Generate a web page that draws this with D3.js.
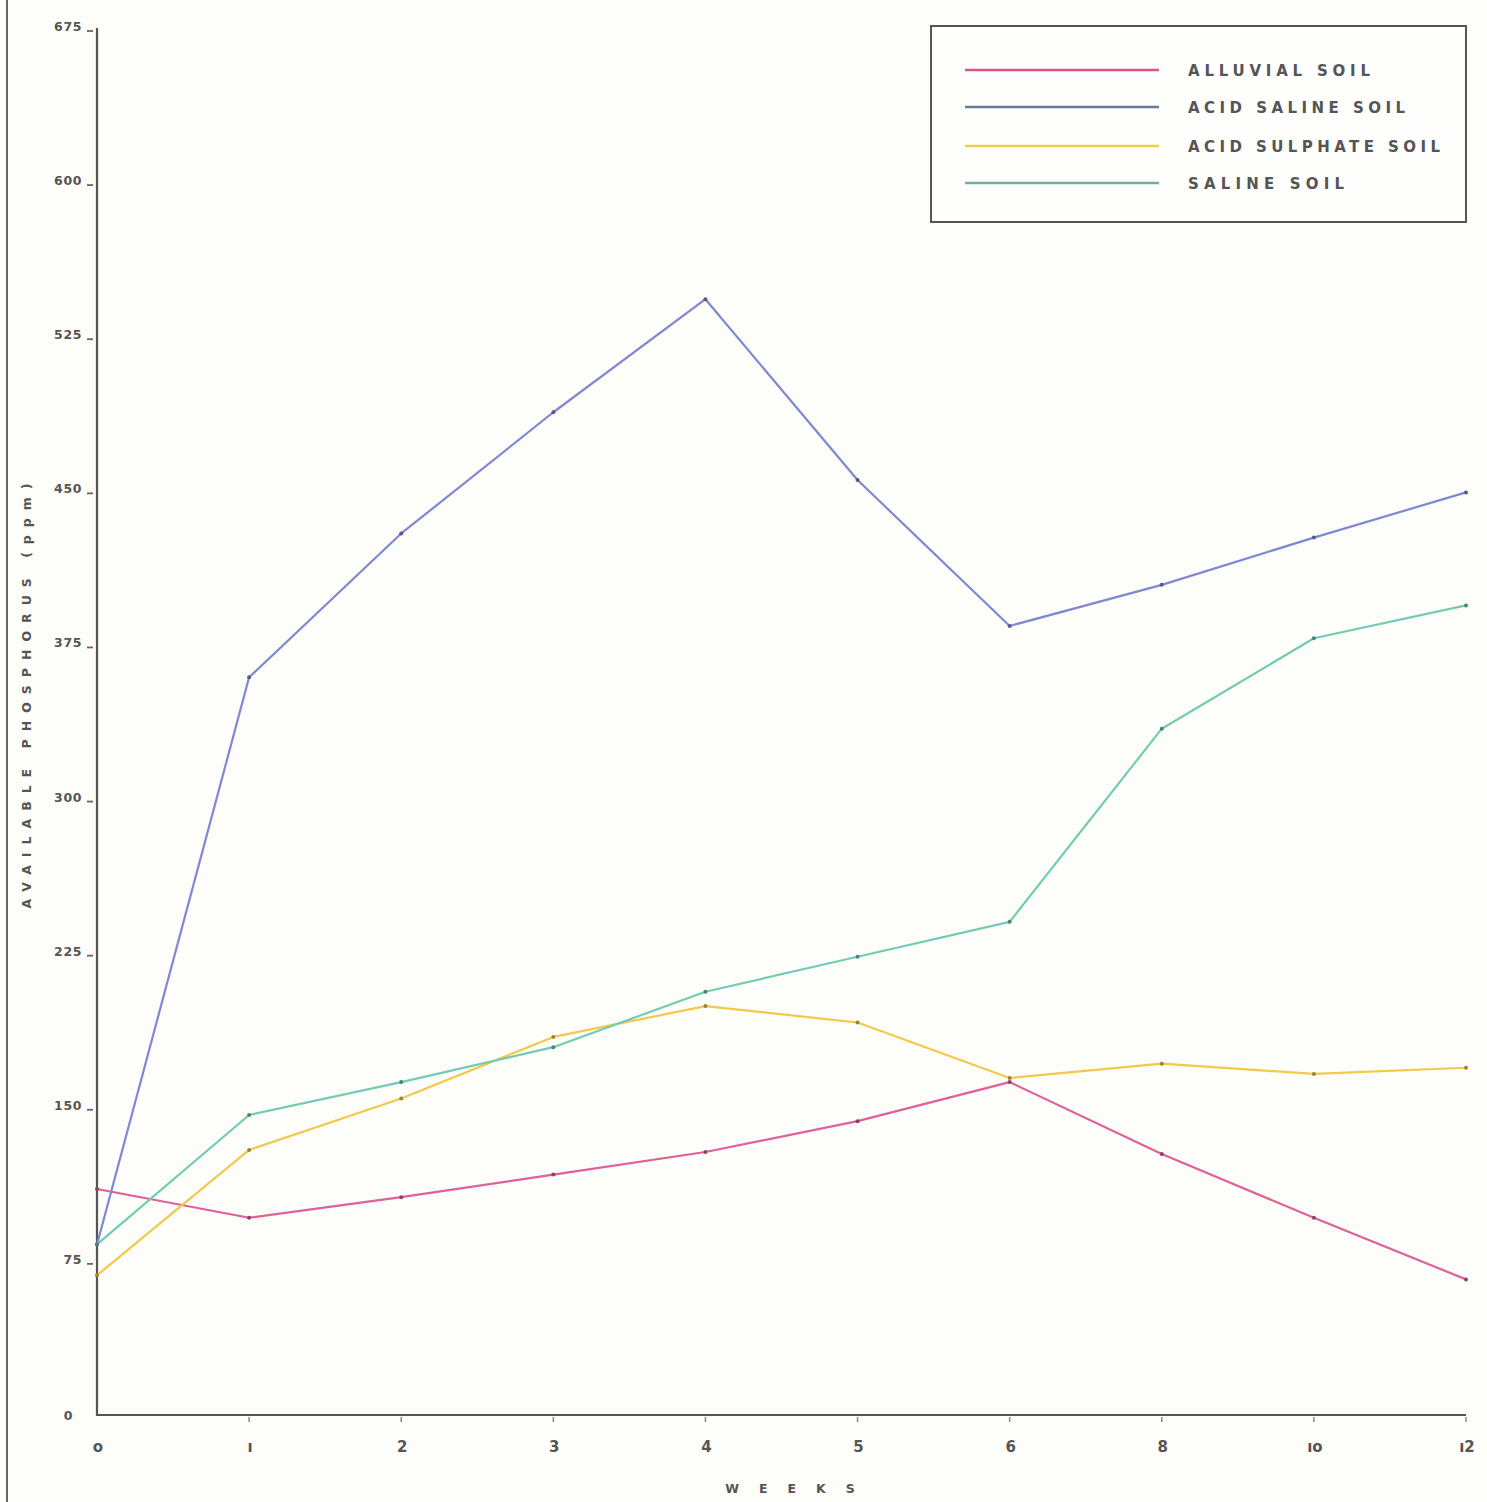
<!DOCTYPE html>
<html>
<head>
<meta charset="utf-8">
<script src="https://cdn.jsdelivr.net/npm/d3@7"></script>
<style>
  html, body { margin: 0; padding: 0; background: #fdfdf9; }
  svg { display: block; }
  text { font-family: "DejaVu Sans", sans-serif; font-weight: bold; fill: #555; }
</style>
</head>
<body>
<svg id="chart" width="1487" height="1502"></svg>
<script>
// Sampling weeks (spaced evenly along the axis)
const weeks = ["0", "1", "2", "3", "4", "5", "6", "8", "10", "12"];
const xLabels = ["o", "ı", "2", "3", "4", "5", "6", "8", "ıo", "ı2"];

// Available phosphorus (ppm) for each soil type
const alluvial      = [110, 96, 106, 117, 128, 143, 162, 127, 96, 66];
const acidSaline    = [83, 359, 429, 488, 543, 455, 384, 404, 427, 449];
const acidSulphate  = [68, 129, 154, 184, 199, 191, 164, 171, 166, 169];
const saline        = [83, 146, 162, 179, 206, 223, 240, 334, 378, 394];

const seriesNames = ["ALLUVIAL  SOIL", "ACID SALINE  SOIL", "ACID SULPHATE  SOIL", "SALINE  SOIL"];
const yTicks = [0, 75, 150, 225, 300, 375, 450, 525, 600, 675];

const seriesValues = [alluvial, acidSaline, acidSulphate, saline];
const lineColors   = ["#e0609a", "#7f88d0", "#f2c94a", "#72cbb4"];
const legendColors = ["#d9568a", "#667d92", "#e6d44a", "#79ae9f"];
const legendWidths = [182, 217, 252, 156];

const svg = d3.select("#chart");

// page border on the left
svg.append("line").attr("x1", 7).attr("x2", 7).attr("y1", 0).attr("y2", 1502)
  .attr("stroke", "#666").attr("stroke-width", 2);

const x = d3.scalePoint().domain(weeks).range([97, 1466]).padding(0);
const y = d3.scaleLinear().domain([0, 675]).range([1415, 28]);

// axes
const axisG = svg.append("g");
axisG.append("line").attr("x1", x(weeks[0])).attr("x2", x(weeks[0]))
  .attr("y1", y(675)).attr("y2", y(0) + 1)
  .attr("stroke", "#555").attr("stroke-width", 2.2);
axisG.append("line").attr("x1", x(weeks[0]) - 1).attr("x2", x(weeks[weeks.length - 1]))
  .attr("y1", y(0)).attr("y2", y(0))
  .attr("stroke", "#555").attr("stroke-width", 2.2);

// y ticks and labels
const yg = svg.append("g");
yTicks.forEach(v => {
  if (v !== 0) {
    yg.append("line").attr("x1", 87).attr("x2", 93)
      .attr("y1", y(v) + 3).attr("y2", y(v) + 3)
      .attr("stroke", "#666").attr("stroke-width", 1.8);
  }
  yg.append("text")
    .attr("x", v === 0 ? 73 : 82)
    .attr("y", y(v) + (v === 0 ? 5 : 3))
    .attr("text-anchor", "end")
    .attr("font-size", 12.5)
    .attr("letter-spacing", 0.6)
    .text(String(v));
});

// x ticks and labels
const xg = svg.append("g");
weeks.forEach((w, i) => {
  if (i > 0) {
    xg.append("line").attr("x1", x(w)).attr("x2", x(w))
      .attr("y1", y(0) + 2).attr("y2", y(0) + 7)
      .attr("stroke", "#888").attr("stroke-width", 1.5);
  }
  xg.append("text")
    .attr("x", x(w) + 1)
    .attr("y", 1452)
    .attr("text-anchor", "middle")
    .attr("font-size", 15)
    .text(xLabels[i]);
});

// axis titles
svg.append("text")
  .attr("transform", "translate(31,692) rotate(-90)")
  .attr("text-anchor", "middle")
  .attr("font-size", 12.5)
  .attr("letter-spacing", 8)
  .text("AVAILABLE PHOSPHORUS (ppm)");

svg.append("text")
  .attr("x", 800).attr("y", 1493)
  .attr("text-anchor", "middle")
  .attr("font-size", 12.5)
  .attr("letter-spacing", 20)
  .text("WEEKS");

// series lines
const line = d3.line()
  .x((d, i) => x(weeks[i]))
  .y(d => y(d));

const plot = svg.append("g");
seriesValues.forEach((vals, s) => {
  plot.append("path")
    .datum(vals)
    .attr("fill", "none")
    .attr("stroke", lineColors[s])
    .attr("stroke-width", 2.2)
    .attr("stroke-linejoin", "round")
    .attr("d", line);
});
// plotted points
seriesValues.forEach((vals, s) => {
  plot.selectAll(null)
    .data(vals)
    .join("circle")
    .attr("cx", (d, i) => x(weeks[i]))
    .attr("cy", d => y(d))
    .attr("r", 2)
    .attr("fill", d3.color(lineColors[s]).darker(1.2));
});

// legend
const lg = svg.append("g");
lg.append("rect")
  .attr("x", 931).attr("y", 26).attr("width", 535).attr("height", 196)
  .attr("fill", "#fefefc")
  .attr("stroke", "#555").attr("stroke-width", 2);
const legendY = [70, 107, 146, 183];
seriesNames.forEach((name, i) => {
  lg.append("line")
    .attr("x1", 965).attr("x2", 1159)
    .attr("y1", legendY[i]).attr("y2", legendY[i])
    .attr("stroke", legendColors[i]).attr("stroke-width", 2.4);
  lg.append("text")
    .attr("x", 1188).attr("y", legendY[i] + 6)
    .attr("font-size", 15)
    .attr("textLength", legendWidths[i])
    .attr("lengthAdjust", "spacing")
    .text(name);
});
</script>
</body>
</html>
